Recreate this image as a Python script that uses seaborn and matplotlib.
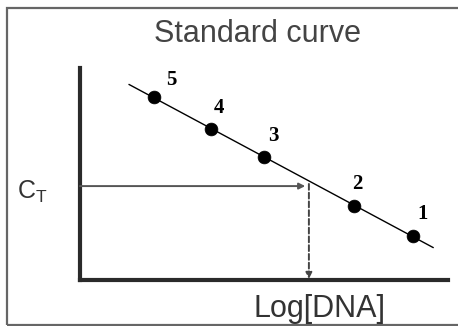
import numpy as np
import pandas as pd
import matplotlib
matplotlib.use("Agg")
import matplotlib.pyplot as plt
from matplotlib.patches import Rectangle
import seaborn as sns

# Standard dilutions: log DNA amount vs threshold cycle (arbitrary units)
standards = ["1", "2", "3", "4", "5"]
log_dna = [9.05, 7.45, 5.00, 3.56, 2.01]
ct_values = [2.08, 3.49, 5.80, 7.12, 8.63]
unknown_ct = 4.43
unknown_log_dna = 6.22
fit_span = [1.33, 9.60]

sns.set_style("white")
plt.rcParams["font.family"] = ["Liberation Sans", "DejaVu Sans"]

df = pd.DataFrame({"standard": standards, "log_dna": log_dna, "ct": ct_values})

fig = plt.figure(figsize=(4.58, 3.26), dpi=100)
ax = fig.add_axes([80 / 458, 46 / 326, 368 / 458, 212 / 326])

# least-squares standard curve
slope, intercept = np.polyfit(df["log_dna"], df["ct"], 1)
line_x = np.array(fit_span)
line_df = pd.DataFrame({"x": line_x, "y": slope * line_x + intercept})
sns.lineplot(data=line_df, x="x", y="y", ax=ax, color="black", lw=1.0)
sns.scatterplot(data=df, x="log_dna", y="ct", ax=ax, color="black",
                s=85, edgecolor="black", linewidth=0.5, zorder=3)

label_offsets = {"1": (10, 22), "2": (3, 22), "3": (9, 21), "4": (8, 21), "5": (17, 17)}
for s, x, y in zip(df["standard"], df["log_dna"], df["ct"]):
    dx, dy = label_offsets[s]
    ax.annotate(s, (x, y), xytext=(dx * 0.72, dy * 0.72), textcoords="offset points",
                ha="center", va="center", fontsize=15, fontweight="bold",
                family="Liberation Serif", color="black")

# read the unknown sample off the curve
ax.annotate("", xy=(unknown_log_dna - 0.1, unknown_ct), xytext=(0, unknown_ct),
            arrowprops=dict(arrowstyle="-|>", color="#555555", lw=1.4,
                            mutation_scale=9, shrinkA=0, shrinkB=0))
ax.annotate("", xy=(unknown_log_dna, 0.05), xytext=(unknown_log_dna, unknown_ct + 0.1),
            arrowprops=dict(arrowstyle="-|>", color="#444444", lw=1.4,
                            linestyle=(0, (3, 1.5)), mutation_scale=9,
                            shrinkA=0, shrinkB=0))

ax.set_xlim(0, 10)
ax.set_ylim(0, 10)
ax.set_xticks([])
ax.set_yticks([])
ax.set_xlabel("")
ax.set_ylabel("")
for side in ["top", "right"]:
    ax.spines[side].set_visible(False)
for side in ["left", "bottom"]:
    ax.spines[side].set_linewidth(3)
    ax.spines[side].set_color("#2a2a2a")

fig.text(257 / 458, 1 - 34 / 326, "Standard curve", ha="center", va="center",
         fontsize=22, color="#444444")
fig.text(319 / 458, 1 - 309 / 326, "Log[DNA]", ha="center", va="center",
         fontsize=22, color="#333333")
fig.text(17 / 458, 1 - 192 / 326, r"C$_\mathregular{T}$", ha="left", va="center",
         fontsize=18, color="#333333")

fig.add_artist(Rectangle((7 / 458, 1 / 326), 1.2, 317 / 326, transform=fig.transFigure,
                         fill=False, edgecolor="#666666", lw=1.6))

fig.savefig("out.png", dpi=100)
